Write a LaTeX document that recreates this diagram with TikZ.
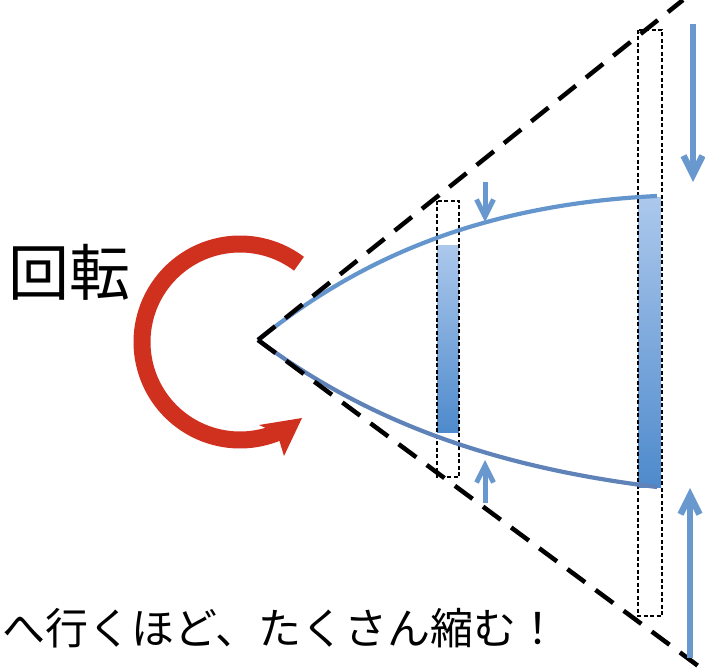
\documentclass[tikz,border=0pt]{standalone}
\usepackage{fontspec}
\newfontfamily\jpfont{Noto Sans CJK JP}
\usetikzlibrary{arrows.meta}
\definecolor{rotred}{RGB}{208,48,30}
\definecolor{curveblue}{RGB}{100,150,205}
\definecolor{curveblue2}{RGB}{95,130,185}
\definecolor{arrblue}{RGB}{105,152,206}
\definecolor{barlight}{RGB}{172,200,236}
\definecolor{bardark}{RGB}{78,138,204}
\tikzset{
  bigdash/.style={line width=4.5pt, dash pattern=on 22pt off 13pt, black},
  thinbox/.style={line width=1.4pt, dash pattern=on 4pt off 2.5pt, black},
  bluecurve/.style={line width=4.2pt, curveblue},
  bigarrow/.style={line width=6.5pt, arrblue, -{Straight Barb[length=19pt,width=19pt]}},
  smallarrow/.style={line width=5pt, arrblue, -{Straight Barb[length=17pt,width=17pt]}},
  lbl/.style={inner sep=0pt, font=\jpfont}
}
\begin{document}
\begin{tikzpicture}[x=1pt,y=-1pt]
\useasboundingbox (0,0) rectangle (705,671);
\coordinate (apex) at (258,340);
\coordinate (topend) at (683,0);
\coordinate (botend) at (705,671);
% bars
\shade[top color=barlight, bottom color=bardark] (437,246) rectangle (459,432);
\shade[top color=barlight, bottom color=bardark] (638,198) rectangle (661,487);
% dashed boxes
\draw[thinbox] (437,201) rectangle (459,477);
\draw[thinbox] (638,30) rectangle (662,616);
% blue curves
\draw[bluecurve] (apex) .. controls (355,262) and (475,205) .. (657,196);
\draw[bluecurve, curveblue2] (apex) .. controls (355,412) and (475,465) .. (657,487);
% big dashed lines
\draw[bigdash] (apex) -- (topend);
\draw[bigdash] (apex) -- (botend);
% arrows
\coordinate (sa1) at (485,182); \coordinate (sa1e) at (485,222);
\coordinate (sa2) at (485,503); \coordinate (sa2e) at (485,460);
\coordinate (ba1) at (693,24);  \coordinate (ba1e) at (693,182);
\coordinate (ba2) at (690,658); \coordinate (ba2e) at (690,488);
\draw[smallarrow] (sa1) -- (sa1e);
\draw[smallarrow] (sa2) -- (sa2e);
\draw[bigarrow] (ba1) -- (ba1e);
\draw[bigarrow] (ba2) -- (ba2e);
% rotation arrow
\draw[rotred, line width=17pt] plot[domain=53:296, samples=90] ({240+98*cos(\x)},{342-98*sin(\x)});
\fill[rotred] (302,418) -- (284,456) -- (277,433) -- (259,425) -- cycle;
% texts
\node[lbl, font=\jpfont\fontsize{61}{63}\selectfont] (rot) at (70,272) {回転};
\node[lbl, anchor=west, font=\jpfont\fontsize{43}{45}\selectfont] (cap) at (2,628) {へ行くほど、たくさん縮む！};
\end{tikzpicture}
\end{document}
